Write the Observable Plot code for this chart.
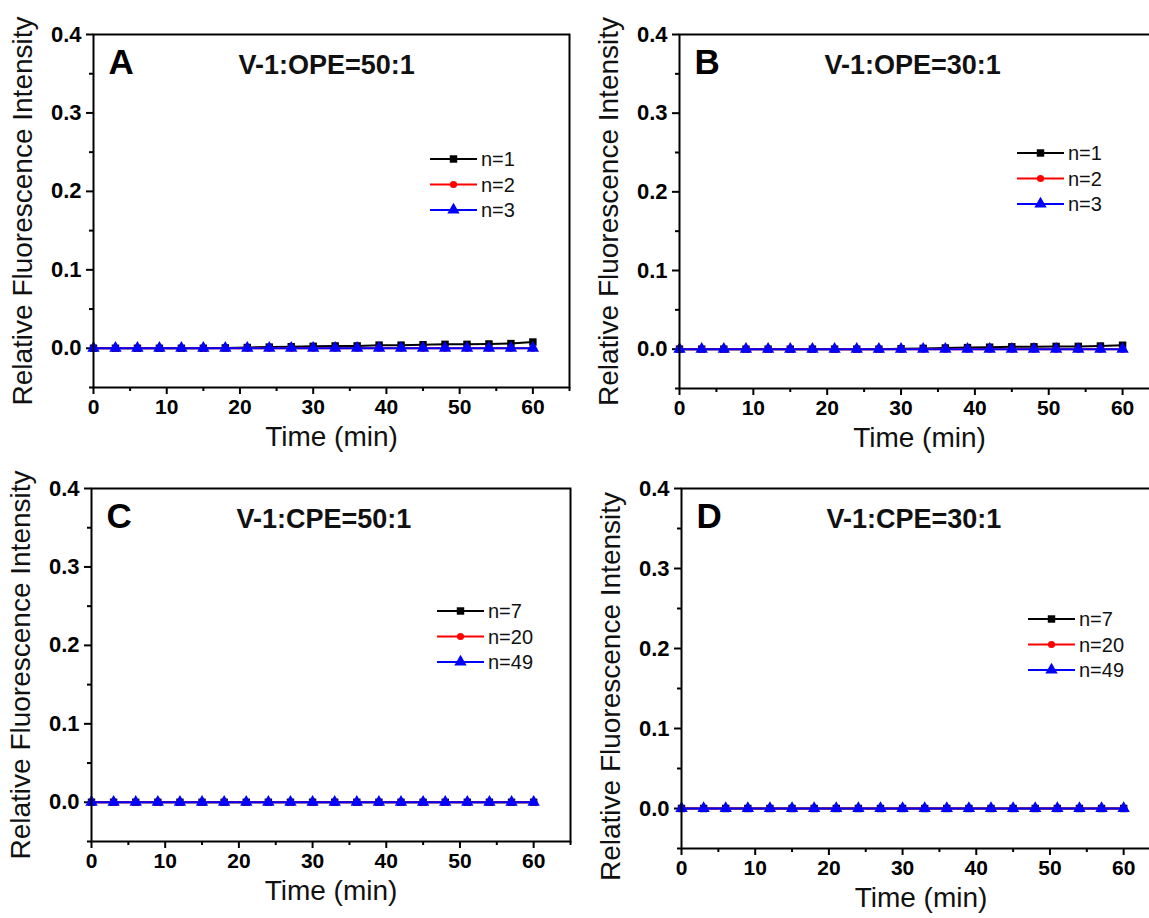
<!DOCTYPE html>
<html>
<head>
<meta charset="utf-8">
<script src="https://cdn.jsdelivr.net/npm/d3@7"></script>
<script src="https://cdn.jsdelivr.net/npm/@observablehq/plot@0.6"></script>
<style>
  html, body { margin: 0; padding: 0; background: #fff; overflow: hidden; }
  #root { position: relative; width: 1149px; height: 918px; overflow: hidden; background: #fff; }
  .panel { position: absolute; }
  .panel svg { overflow: visible; max-width: none !important; }
</style>
</head>
<body>
<div id="root"></div>
<script>
// ---------------- data ----------------
const time = [0, 3, 6, 9, 12, 15, 18, 21, 24, 27, 30, 33, 36, 39, 42, 45, 48, 51, 54, 57, 60];

const panelTitles = ["V-1:OPE=50:1", "V-1:OPE=30:1", "V-1:CPE=50:1", "V-1:CPE=30:1"];
const panelLetters = ["A", "B", "C", "D"];
const seriesNamesOPE = ["n=1", "n=2", "n=3"];
const seriesNamesCPE = ["n=7", "n=20", "n=49"];

const A_n1 = [0, 0, 0, 0, 0, 0, 0.0005, 0.001, 0.0015, 0.002, 0.0025, 0.003, 0.003, 0.004, 0.004, 0.0045, 0.005, 0.005, 0.0055, 0.006, 0.008];
const A_n2 = [0, 0, 0, 0, 0, 0, 0, 0, 0, 0, 0, 0, 0, 0, 0, 0, 0, 0, 0, 0, 0];
const A_n3 = [0, 0, 0, 0, 0, 0, 0, 0, 0, 0, 0, 0, 0, 0, 0, 0, 0, 0, 0, 0, 0];

const B_n1 = [0, 0, 0, 0, 0, 0, 0, 0, 0, 0, 0.0005, 0.001, 0.0015, 0.002, 0.0025, 0.003, 0.003, 0.0035, 0.0035, 0.004, 0.005];
const B_n2 = [0, 0, 0, 0, 0, 0, 0, 0, 0, 0, 0, 0, 0, 0, 0, 0, 0, 0, 0, 0, 0];
const B_n3 = [0, 0, 0, 0, 0, 0, 0, 0, 0, 0, 0, 0, 0, 0, 0, 0, 0, 0, 0, 0, 0];

const C_n7  = [0, 0, 0, 0, 0, 0, 0, 0, 0, 0, 0, 0, 0, 0, 0, 0, 0, 0, 0, 0, 0];
const C_n20 = [0, 0, 0, 0, 0, 0, 0, 0, 0, 0, 0, 0, 0, 0, 0, 0, 0, 0, 0, 0, 0];
const C_n49 = [0, 0, 0, 0, 0, 0, 0, 0, 0, 0, 0, 0, 0, 0, 0, 0, 0, 0, 0, 0, 0];

const D_n7  = [0, 0, 0, 0, 0, 0, 0, 0, 0, 0, 0, 0, 0, 0, 0, 0, 0, 0, 0, 0, 0];
const D_n20 = [0, 0, 0, 0, 0, 0, 0, 0, 0, 0, 0, 0, 0, 0, 0, 0, 0, 0, 0, 0, 0];
const D_n49 = [0, 0, 0, 0, 0, 0, 0, 0, 0, 0, 0, 0, 0, 0, 0, 0, 0, 0, 0, 0, 0];

const xMajorTicks = [0, 10, 20, 30, 40, 50, 60];
const xMinorTicks = [5, 15, 25, 35, 45, 55, 65];
const yMajorTicks = [0.0, 0.1, 0.2, 0.3, 0.4];
const yMinorTicks = [-0.05, 0.05, 0.15, 0.25, 0.35];
const xDomain = [0, 65];
const yDomain = [-0.05, 0.4];
const xLabel = "Time (min)";
const yLabel = "Relative Fluorescence Intensity";

// ---------------- styles ----------------
const seriesStyles = [
  { color: "#000000", symbol: "square", r: 4.2 },
  { color: "#ff0000", symbol: "circle", r: 3.6 },
  { color: "#0000ff", symbol: "triangle", r: 4.6 }
];
const FONT = "'Liberation Sans', Arial, Helvetica, sans-serif";

// panel layout: svg box + margins; legend offsets relative to frame
const layout = [
  { left: 0,   top: 0,   width: 575, height: 455, mL: 93,  mR: 6, mT: 34, mB: 68, legX: 337, legY: 125, yLabDy: 0 },
  { left: 575, top: 0,   width: 590, height: 455, mL: 104, mR: 6, mT: 34, mB: 67, legX: 338, legY: 119, yLabDy: 0 },
  { left: 0,   top: 455, width: 575, height: 463, mL: 91,  mR: 5, mT: 33, mB: 77, legX: 346, legY: 123, yLabDy: 0 },
  { left: 575, top: 455, width: 590, height: 463, mL: 106, mR: 5, mT: 33, mB: 70, legX: 347, legY: 131, yLabDy: 18 }
];

const panelSeries = [
  { names: seriesNamesOPE, values: [A_n1, A_n2, A_n3] },
  { names: seriesNamesOPE, values: [B_n1, B_n2, B_n3] },
  { names: seriesNamesCPE, values: [C_n7, C_n20, C_n49] },
  { names: seriesNamesCPE, values: [D_n7, D_n20, D_n49] }
];

const root = document.getElementById("root");

panelSeries.forEach((ps, pi) => {
  const L = layout[pi];
  const seriesMarks = [];
  ps.values.forEach((vals, si) => {
    const st = seriesStyles[si];
    const rows = time.map((t, i) => ({ t, v: vals[i] }));
    seriesMarks.push(Plot.line(rows, { x: "t", y: "v", stroke: st.color, strokeWidth: 2 }));
    seriesMarks.push(Plot.dot(rows, { x: "t", y: "v", fill: st.color, stroke: "none", symbol: st.symbol, r: st.r }));
  });

  const chart = Plot.plot({
    width: L.width,
    height: L.height,
    marginLeft: L.mL,
    marginRight: L.mR,
    marginTop: L.mT,
    marginBottom: L.mB,
    style: { fontFamily: FONT, background: "transparent", color: "#000", overflow: "visible", maxWidth: "none" },
    x: { domain: xDomain },
    y: { domain: yDomain },
    marks: [
      Plot.axisX({ ticks: xMajorTicks, tickSize: 7, tickPadding: 5, strokeWidth: 2, fontSize: 21, fontWeight: "bold", tickFormat: d => String(d), label: null }),
      Plot.axisX({ ticks: xMinorTicks, tickSize: 4, strokeWidth: 2, tickFormat: () => "", label: null }),
      Plot.axisY({ ticks: yMajorTicks, tickSize: 7, tickPadding: 5, strokeWidth: 2, fontSize: 22, fontWeight: "bold", tickFormat: d3.format(".1f"), label: null }),
      Plot.axisY({ ticks: yMinorTicks, tickSize: 4, strokeWidth: 2, tickFormat: () => "", label: null }),
      ...seriesMarks,
      Plot.frame({ stroke: "#000", strokeWidth: 2 }),
      Plot.text([yLabel], { frameAnchor: "left", textAnchor: "middle", lineAnchor: "middle", rotate: -90, dx: -70, dy: L.yLabDy, fontSize: 28, fill: "#111" }),
      Plot.text([xLabel], { frameAnchor: "bottom", lineAnchor: "middle", dy: 50, fontSize: 28, fill: "#111" }),
      Plot.text([panelLetters[pi]], { frameAnchor: "top-left", textAnchor: "start", lineAnchor: "bottom", dx: 15, dy: 39, fontSize: 35, fontWeight: "bold", fill: "#000" }),
      Plot.text([panelTitles[pi]], { frameAnchor: "top-left", textAnchor: "start", lineAnchor: "bottom", dx: 145, dy: 39, fontSize: 27, fontWeight: "bold", fill: "#111" })
    ]
  });

  // legend drawn into the chart svg, in frame-relative pixel offsets
  const svg = d3.select(chart);
  const g = svg.append("g")
    .attr("transform", `translate(${L.mL + L.legX},${L.mT + L.legY})`);
  const symGen = { square: d3.symbolSquare, circle: d3.symbolCircle, triangle: d3.symbolTriangle };
  ps.names.forEach((name, si) => {
    const st = seriesStyles[si];
    const row = g.append("g").attr("transform", `translate(0,${si * 25.5})`);
    row.append("line").attr("x1", 0).attr("x2", 47).attr("y1", 0).attr("y2", 0)
      .attr("stroke", st.color).attr("stroke-width", 2);
    const area = Math.PI * st.r * st.r;
    row.append("path").attr("transform", "translate(23.5,0)")
      .attr("d", d3.symbol(symGen[st.symbol], area)())
      .attr("fill", st.color);
    row.append("text").attr("x", 51).attr("y", 0).attr("dy", "0.35em")
      .attr("text-anchor", "start")
      .attr("font-family", FONT).attr("font-size", 20).attr("fill", "#111")
      .text(name);
  });

  const div = document.createElement("div");
  div.className = "panel";
  div.style.left = L.left + "px";
  div.style.top = L.top + "px";
  div.appendChild(chart);
  root.appendChild(div);
});
</script>
</body>
</html>
